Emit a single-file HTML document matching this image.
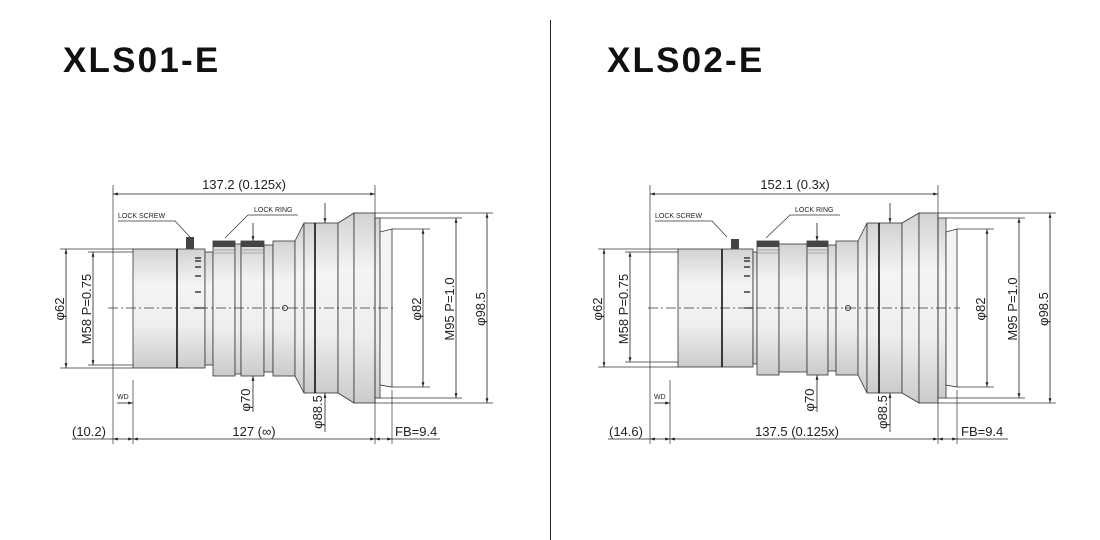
<!DOCTYPE html>
<html><head><meta charset="utf-8"><style>
html,body{margin:0;padding:0;background:#fff;}
svg{display:block;font-family:"Liberation Sans",sans-serif;}
</style></head><body>
<svg width="1100" height="540" viewBox="0 0 1100 540" xmlns="http://www.w3.org/2000/svg">
<defs>
<linearGradient id="g" x1="0" y1="0" x2="0" y2="1">
<stop offset="0" stop-color="#d2d2d2"/><stop offset="0.3" stop-color="#f4f4f4"/><stop offset="0.65" stop-color="#eeeeee"/><stop offset="1" stop-color="#cbcbcb"/>
</linearGradient>
<marker id="a" viewBox="0 0 10 10" refX="10" refY="5" markerWidth="6" markerHeight="6" orient="auto-start-reverse"><path d="M0,2 L10,5 L0,8z" fill="#222"/></marker>
</defs>
<rect width="1100" height="540" fill="#fff"/>
<line x1="550.5" y1="20" x2="550.5" y2="540" stroke="#222" stroke-width="1"/>
<text x="63" y="72" font-size="35" font-weight="bold" letter-spacing="2.2" fill="#111">XLS01-E</text>
<text x="607" y="72" font-size="35" font-weight="bold" letter-spacing="2.2" fill="#111">XLS02-E</text>

<!-- ============ LEFT ============ -->
<g stroke="#333" stroke-width="0.8" fill="url(#g)">
<rect x="133" y="249" width="44" height="119"/>
<rect x="177" y="249" width="28" height="119"/>
<rect x="205" y="252" width="8" height="113"/>
<rect x="213" y="241" width="22" height="135"/>
<rect x="235" y="244" width="6" height="130"/>
<rect x="241" y="241" width="23" height="135"/>
<rect x="264" y="245" width="9" height="127"/>
<rect x="273" y="241" width="22" height="135"/>
<path d="M295,241 L304,223 L304,393 L295,376z"/>
<rect x="304" y="223" width="11" height="170"/>
<rect x="315" y="223" width="23" height="170"/>
<path d="M338,223 L354,213 L354,403 L338,393z"/>
<rect x="354" y="213" width="21" height="190"/>
<rect x="375" y="218" width="5" height="180"/>
<path d="M380,232 L392,229 L392,387 L380,385z" fill="#f4f4f4"/>
</g>
<g fill="#444"><rect x="213" y="241" width="22" height="6"/><rect x="241" y="241" width="23" height="6"/><rect x="186" y="237" width="8" height="12"/></g>
<g stroke="#777" stroke-width="0.6"><line x1="213" y1="250" x2="235" y2="250"/><line x1="213" y1="253" x2="235" y2="253"/><line x1="241" y1="250" x2="264" y2="250"/><line x1="241" y1="253" x2="264" y2="253"/></g>
<g stroke="#111" stroke-width="1.6"><line x1="177" y1="249" x2="177" y2="368"/><line x1="315" y1="223" x2="315" y2="393"/></g>
<g stroke="#111" stroke-width="1.2"><line x1="195" y1="258" x2="201" y2="258"/><line x1="195" y1="261" x2="201" y2="261"/><line x1="195" y1="267" x2="201" y2="267"/><line x1="195" y1="276" x2="201" y2="276"/><line x1="195" y1="292" x2="201" y2="292"/><line x1="195" y1="308" x2="204" y2="308"/></g>
<line x1="108" y1="308" x2="396" y2="308" stroke="#333" stroke-width="0.7" stroke-dasharray="10,3,2,3"/>
<circle cx="285" cy="308" r="2.5" fill="none" stroke="#333"/>
<g stroke="#333" stroke-width="0.7" fill="none">
<line x1="113" y1="185" x2="113" y2="444"/><line x1="375" y1="185" x2="375" y2="444"/>
<line x1="133" y1="380" x2="133" y2="444"/><line x1="392" y1="390" x2="392" y2="444"/>
<line x1="60" y1="249" x2="133" y2="249"/><line x1="60" y1="368" x2="133" y2="368"/>
<line x1="88" y1="252" x2="133" y2="252"/><line x1="88" y1="365" x2="133" y2="365"/>
<line x1="392" y1="229" x2="430" y2="229"/><line x1="392" y1="387" x2="430" y2="387"/>
<line x1="380" y1="218" x2="462" y2="218"/><line x1="380" y1="398" x2="462" y2="398"/>
<line x1="375" y1="213" x2="493" y2="213"/><line x1="375" y1="403" x2="493" y2="403"/>
<polyline points="118,221 175,221 190,237"/><polyline points="298,215 248,215 225,238"/>
</g>
<g stroke="#222" stroke-width="0.8" marker-start="url(#a)" marker-end="url(#a)">
<line x1="113" y1="194" x2="375" y2="194"/>
<line x1="66" y1="249" x2="66" y2="368"/><line x1="93" y1="252" x2="93" y2="365"/>
<line x1="423" y1="229" x2="423" y2="387"/><line x1="456" y1="218" x2="456" y2="398"/><line x1="487" y1="213" x2="487" y2="403"/>
<line x1="113" y1="439" x2="133" y2="439"/><line x1="133" y1="439" x2="375" y2="439"/><line x1="375" y1="439" x2="392" y2="439"/>
</g>
<g stroke="#222" stroke-width="0.8" marker-end="url(#a)">
<line x1="117" y1="403" x2="133" y2="403"/>
<line x1="253" y1="223" x2="253" y2="241"/><line x1="253" y1="412" x2="253" y2="376"/>
<line x1="325" y1="203" x2="325" y2="223"/><line x1="325" y1="432" x2="325" y2="393"/>
</g>
<g stroke="#222" stroke-width="0.7"><line x1="72" y1="439" x2="113" y2="439"/><line x1="392" y1="439" x2="440" y2="439"/></g>
<g fill="#222" font-size="13">
<text x="244" y="189" text-anchor="middle">137.2 (0.125x)</text>
<text x="72" y="436">(10.2)</text>
<text x="254" y="436" text-anchor="middle">127 (∞)</text>
<text x="395" y="436">FB=9.4</text>
<text transform="translate(64,309) rotate(-90)" text-anchor="middle">φ62</text>
<text transform="translate(91,309) rotate(-90)" text-anchor="middle">M58 P=0.75</text>
<text transform="translate(421,309) rotate(-90)" text-anchor="middle">φ82</text>
<text transform="translate(454,309) rotate(-90)" text-anchor="middle">M95 P=1.0</text>
<text transform="translate(485,309) rotate(-90)" text-anchor="middle">φ98.5</text>
<text transform="translate(250,400) rotate(-90)" text-anchor="middle">φ70</text>
<text transform="translate(322,412) rotate(-90)" text-anchor="middle">φ88.5</text>
</g>
<g fill="#222" font-size="7"><text x="118" y="218">LOCK SCREW</text><text x="254" y="212">LOCK RING</text><text x="117" y="399">WD</text></g>

<!-- ============ RIGHT ============ -->
<g stroke="#333" stroke-width="0.8" fill="url(#g)">
<rect x="678" y="249" width="44" height="118"/>
<rect x="722" y="249" width="31" height="118"/>
<rect x="753" y="252" width="4" height="112"/>
<rect x="757" y="241" width="22" height="134"/>
<rect x="779" y="244" width="28" height="128"/>
<rect x="807" y="241" width="21" height="134"/>
<rect x="828" y="245" width="8" height="126"/>
<rect x="836" y="241" width="22" height="134"/>
<path d="M858,241 L867,223 L867,393 L858,375z"/>
<rect x="867" y="223" width="12" height="170"/>
<rect x="879" y="223" width="23" height="170"/>
<path d="M902,223 L919,213 L919,403 L902,393z"/>
<rect x="919" y="213" width="19" height="190"/>
<rect x="938" y="218" width="8" height="180"/>
<path d="M946,232 L957,229 L957,387 L946,385z" fill="#f4f4f4"/>
</g>
<g fill="#444"><rect x="757" y="241" width="22" height="6"/><rect x="807" y="241" width="21" height="6"/><rect x="731" y="239" width="8" height="10"/></g>
<g stroke="#777" stroke-width="0.6"><line x1="757" y1="250" x2="779" y2="250"/><line x1="757" y1="253" x2="779" y2="253"/><line x1="807" y1="250" x2="828" y2="250"/><line x1="807" y1="253" x2="828" y2="253"/></g>
<g stroke="#111" stroke-width="1.6"><line x1="722" y1="249" x2="722" y2="367"/><line x1="879" y1="223" x2="879" y2="393"/></g>
<g stroke="#111" stroke-width="1.2"><line x1="744" y1="258" x2="750" y2="258"/><line x1="744" y1="261" x2="750" y2="261"/><line x1="744" y1="267" x2="750" y2="267"/><line x1="744" y1="276" x2="750" y2="276"/><line x1="744" y1="292" x2="750" y2="292"/><line x1="744" y1="308" x2="753" y2="308"/></g>
<line x1="648" y1="308" x2="960" y2="308" stroke="#333" stroke-width="0.7" stroke-dasharray="10,3,2,3"/>
<circle cx="848" cy="308" r="2.5" fill="none" stroke="#333"/>
<g stroke="#333" stroke-width="0.7" fill="none">
<line x1="650" y1="185" x2="650" y2="444"/><line x1="938" y1="185" x2="938" y2="444"/>
<line x1="670" y1="380" x2="670" y2="444"/><line x1="957" y1="390" x2="957" y2="444"/>
<line x1="598" y1="249" x2="678" y2="249"/><line x1="598" y1="367" x2="678" y2="367"/>
<line x1="625" y1="252" x2="678" y2="252"/><line x1="625" y1="362" x2="678" y2="362"/>
<line x1="957" y1="229" x2="994" y2="229"/><line x1="957" y1="387" x2="994" y2="387"/>
<line x1="946" y1="218" x2="1025" y2="218"/><line x1="946" y1="398" x2="1025" y2="398"/>
<line x1="938" y1="213" x2="1056" y2="213"/><line x1="938" y1="403" x2="1056" y2="403"/>
<polyline points="655,221 712,221 727,237"/><polyline points="840,215 790,215 766,238"/>
</g>
<g stroke="#222" stroke-width="0.8" marker-start="url(#a)" marker-end="url(#a)">
<line x1="650" y1="194" x2="938" y2="194"/>
<line x1="604" y1="249" x2="604" y2="367"/><line x1="630" y1="252" x2="630" y2="362"/>
<line x1="987" y1="229" x2="987" y2="387"/><line x1="1019" y1="218" x2="1019" y2="398"/><line x1="1050" y1="213" x2="1050" y2="403"/>
<line x1="650" y1="439" x2="670" y2="439"/><line x1="670" y1="439" x2="938" y2="439"/><line x1="938" y1="439" x2="957" y2="439"/>
</g>
<g stroke="#222" stroke-width="0.8" marker-end="url(#a)">
<line x1="654" y1="403" x2="670" y2="403"/>
<line x1="817" y1="223" x2="817" y2="241"/><line x1="817" y1="412" x2="817" y2="375"/>
<line x1="890" y1="203" x2="890" y2="223"/><line x1="890" y1="432" x2="890" y2="393"/>
</g>
<g stroke="#222" stroke-width="0.7"><line x1="608" y1="439" x2="650" y2="439"/><line x1="957" y1="439" x2="1008" y2="439"/></g>
<g fill="#222" font-size="13">
<text x="795" y="189" text-anchor="middle">152.1 (0.3x)</text>
<text x="609" y="436">(14.6)</text>
<text x="797" y="436" text-anchor="middle">137.5 (0.125x)</text>
<text x="961" y="436">FB=9.4</text>
<text transform="translate(602,309) rotate(-90)" text-anchor="middle">φ62</text>
<text transform="translate(628,309) rotate(-90)" text-anchor="middle">M58 P=0.75</text>
<text transform="translate(985,309) rotate(-90)" text-anchor="middle">φ82</text>
<text transform="translate(1017,309) rotate(-90)" text-anchor="middle">M95 P=1.0</text>
<text transform="translate(1048,309) rotate(-90)" text-anchor="middle">φ98.5</text>
<text transform="translate(814,400) rotate(-90)" text-anchor="middle">φ70</text>
<text transform="translate(887,412) rotate(-90)" text-anchor="middle">φ88.5</text>
</g>
<g fill="#222" font-size="7"><text x="655" y="218">LOCK SCREW</text><text x="795" y="212">LOCK RING</text><text x="654" y="399">WD</text></g>
</svg>
</body></html>
